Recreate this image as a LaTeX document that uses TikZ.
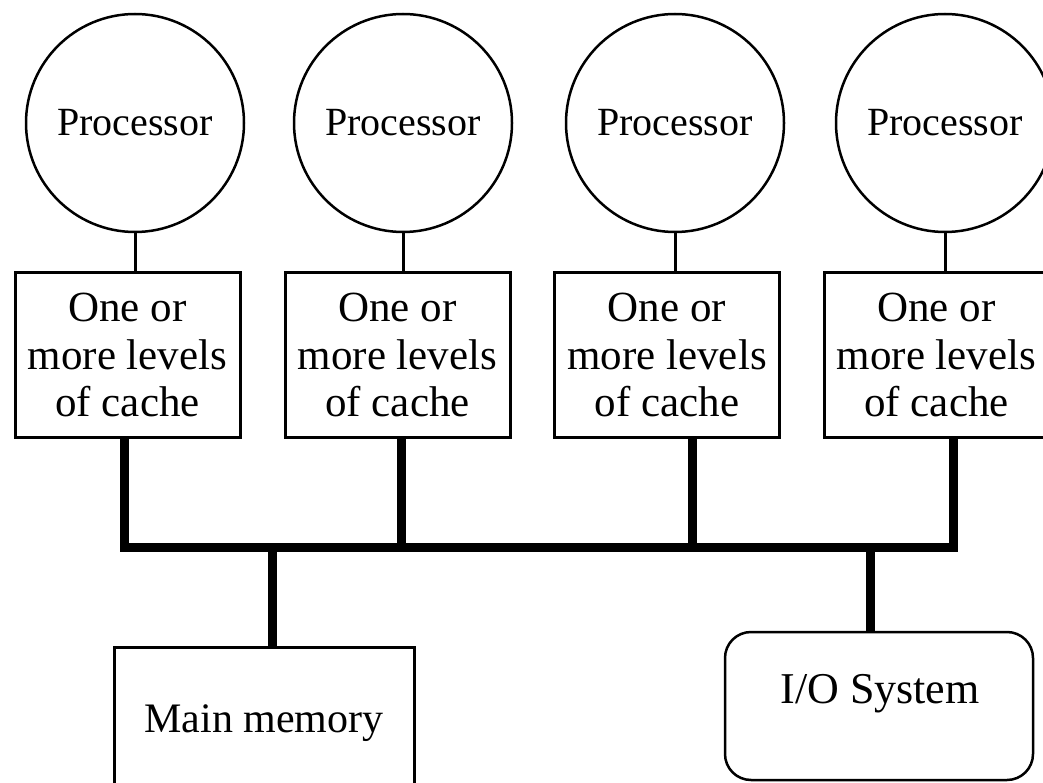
\documentclass[tikz,border=0pt]{standalone}
\usepackage{fontspec}
\setmainfont{Liberation Serif}
\begin{document}
\begin{tikzpicture}[x=1pt,y=-1pt,
  proc/.style={circle,draw,line width=2.5pt,minimum size=218pt,inner sep=0pt,font=\fontsize{40}{46}\selectfont},
  cachebox/.style={rectangle,draw,line width=3pt,minimum width=225pt,minimum height=164pt,inner sep=0pt,align=center,font=\fontsize{43}{47.5}\selectfont},
  membox/.style={rectangle,draw,line width=3pt,minimum width=300pt,minimum height=152pt,inner sep=0pt,font=\fontsize{42}{48}\selectfont},
  iobox/.style={rectangle,rounded corners=26pt,draw,line width=2.5pt,minimum width=308pt,minimum height=148pt,inner sep=0pt},
  iotext/.style={inner sep=0pt,font=\fontsize{44}{48}\selectfont},
  stem/.style={line width=3pt},
  bus/.style={line width=9pt,line join=miter,line cap=rect}
]
\useasboundingbox (0,0) rectangle (1043,783);
\clip (0,0) rectangle (1043,783);

% processors
\node[proc] (p1) at (135,123) {Processor};
\node[proc] (p2) at (403,123) {Processor};
\node[proc] (p3) at (675,123) {Processor};
\node[proc] (p4) at (945,123) {Processor};

% caches
\node[cachebox] (c1) at (127.5,355) {One or\\more levels\\of cache};
\node[cachebox] (c2) at (397.5,355) {One or\\more levels\\of cache};
\node[cachebox] (c3) at (667,355) {One or\\more levels\\of cache};
\node[cachebox] (c4) at (936.5,355) {One or\\more levels\\of cache};

% processor-cache links
\foreach \i in {1,2,3,4}{
  \draw[stem] (p\i.south) -- (p\i.south |- c\i.north);
}

% memory and I/O
\node[membox] (mem) at (264,723) {Main memory};
\node[iobox] (io) at (879,706) {};
\node[iotext] (iol) at (880,694) {I/O System};

% bus coordinates
\coordinate (b1) at (124,547);
\coordinate (b2) at (401,547);
\coordinate (b3) at (692.5,547);
\coordinate (b4) at (953,547);
\coordinate (bm) at (272.5,547);
\coordinate (bi) at (870.5,547);

% bus
\draw[bus,line cap=butt] (b1 |- c1.south) -- (b1) -- (b4) -- (b4 |- c4.south);
\draw[bus,line cap=butt] (b2 |- c2.south) -- (b2);
\draw[bus,line cap=butt] (b3 |- c3.south) -- (b3);
\draw[bus,line cap=butt] (bm) -- (bm |- mem.north);
\draw[bus,line cap=butt] (bi) -- (bi |- io.north);
\end{tikzpicture}
\end{document}
